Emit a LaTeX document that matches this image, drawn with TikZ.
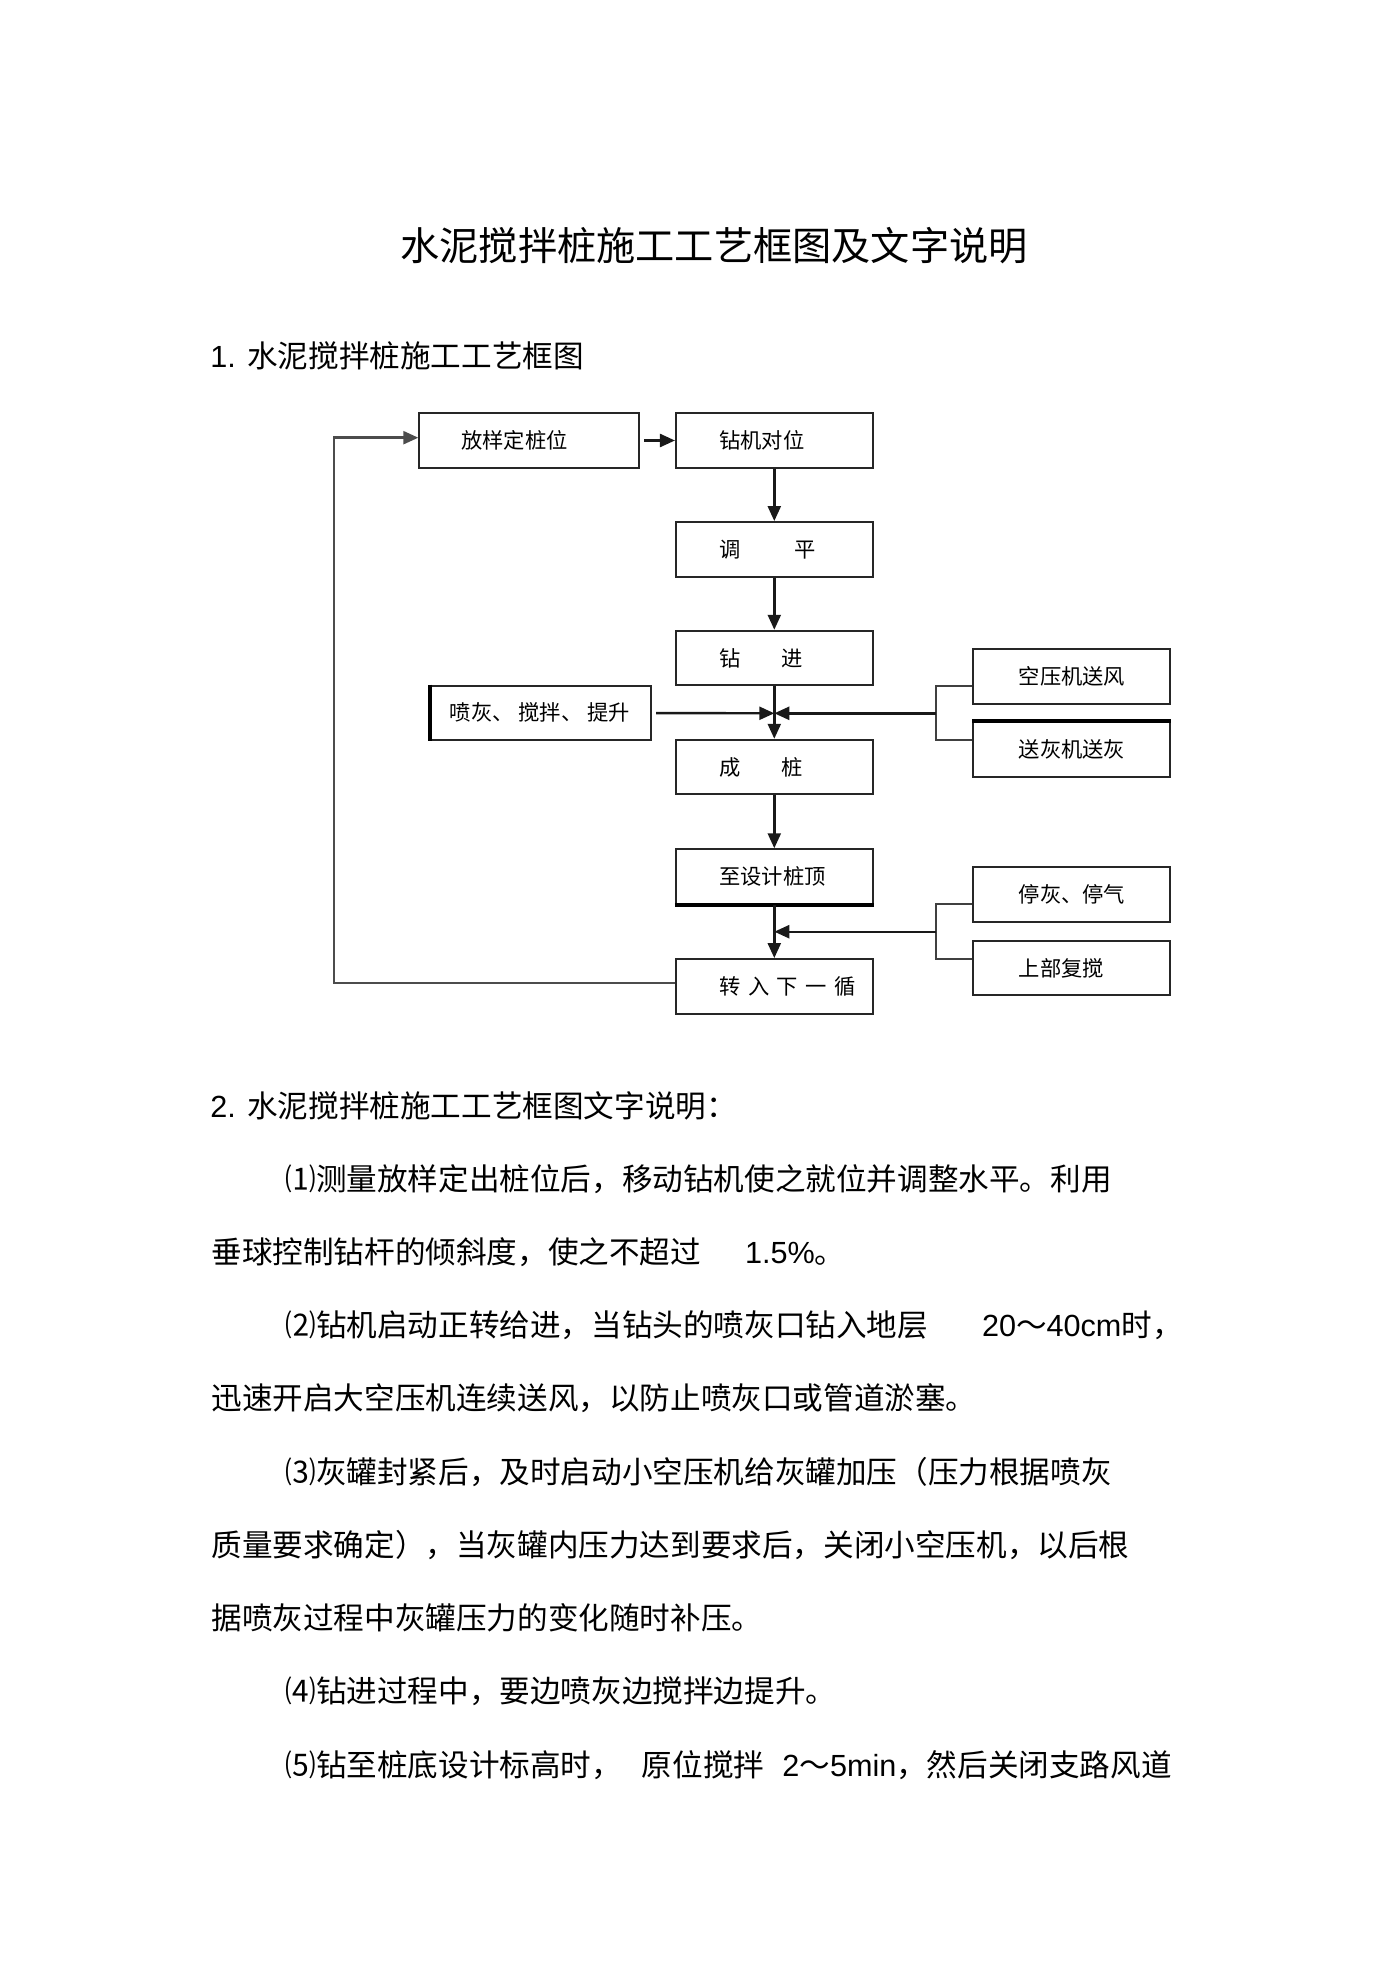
\documentclass[tikz,border=0pt]{standalone}
\usepackage{fontspec}
\setmainfont{Noto Sans CJK SC}
\newfontfamily\lat{Liberation Sans}
\usetikzlibrary{arrows.meta,positioning}

\newcommand{\zigap}{\hspace{3.7pt}}

\tikzset{
  box/.style={draw=black!85, line width=1pt, minimum width=98.35pt, minimum height=27.25pt, inner sep=0pt},
  wbox/.style={box, minimum width=110pt},
  boxtext/.style={inner sep=0pt, font=\fontsize{10.65pt}{12pt}\selectfont},
  link/.style={line width=1.2pt, draw=black!90},
  arr/.style={link, -{Triangle[length=7.5pt,width=6.5pt]}},
  feed/.style={line width=0.9pt, draw=black!75},
  para/.style={anchor=west, inner sep=0pt, font=\fontsize{15.3pt}{18pt}\selectfont},
}

\begin{document}
\begin{tikzpicture}[x=0.5pt, y=-0.5pt]
  % Page
  \useasboundingbox (0,0) rectangle (1394,1973);
  \fill[white] (0,0) rectangle (1394,1973);

  % Headings
  \node[anchor=west, inner sep=0pt, font=\fontsize{19.6pt}{24pt}\selectfont] (title) at (400,246) {水泥搅拌桩施工工艺框图及文字说明};
  \node[anchor=west, inner sep=0pt, font=\fontsize{15.3pt}{18pt}\selectfont] (head1) at (210,356) {{\lat 1. }水泥搅拌桩施工工艺框图};

  % Main column
  \node[box] (zj) at (774.3,440.5) {};
  \node[box] (tp) at (774.3,549.3) {};
  \node[box] (zjin) at (774.3,658) {};
  \node[box] (cz) at (774.3,767) {};
  \node[box] (zd) at (774.3,876.5) {};
  \node[box] (zr) at (774.3,986.3) {};
  % Side boxes
  \node[wbox] (fy) at (529.3,440.5) {};
  \node[wbox] (pen) at (541.2,712.8) {};
  \node[box] (ky) at (1071.7,676.7) {};
  \node[box] (sh) at (1071.7,749.5) {};
  \node[box] (th) at (1071.7,894.5) {};
  \node[box] (sb) at (1071.7,968) {};

  % Box texts
  \node[boxtext, right=21.2pt of fy.west] (fy-t) {放样定桩位};
  \node[boxtext, right=22pt of zj.west] (zj-t) {钻机对位};
  \node[boxtext, right=22pt of tp.west] (tp-t) {调\hspace{26.8pt}平};
  \node[boxtext, right=22pt of zjin.west] (zjin-t) {钻\hspace{20.2pt}进};
  \node[boxtext, right=22pt of cz.west] (cz-t) {成\hspace{20.2pt}桩};
  \node[boxtext, right=22pt of zd.west] (zd-t) {至设计桩顶};
  \node[boxtext, right=22pt of zr.west] (zr-t) {转\zigap 入\zigap 下\zigap 一\zigap 循};
  \node[boxtext, right=9.6pt of pen.west] (pen-t) {喷灰、\hspace{2.5pt}搅拌、\hspace{2.5pt}提升};
  \node[boxtext, right=23pt of ky.west] (ky-t) {空压机送风};
  \node[boxtext, right=23pt of sh.west] (sh-t) {送灰机送灰};
  \node[boxtext, right=23pt of th.west] (th-t) {停灰、停气};
  \node[boxtext, right=23pt of sb.west] (sb-t) {上部复搅};

  % Heavier edges
  \draw[line width=1.9pt] (pen.north west) -- (pen.south west);
  \draw[line width=1.9pt] (zd.south west) -- (zd.south east);
  \draw[line width=1.9pt] (sh.north west) -- (sh.north east);

  % Flow arrows
  \draw[arr, shorten <=2pt] (fy) -- (zj);
  \draw[arr] (zj) -- (tp);
  \draw[arr] (tp) -- (zjin);
  \draw[arr] (zjin) -- (cz);
  \draw[arr] (cz) -- (zd);
  \draw[arr] (zd) -- (zr);

  % Feeds into the column
  \coordinate (jA) at (774.3,713.3);
  \coordinate (bA) at (936,713.3);
  \draw[arr, shorten <=2pt] (pen) -- (jA);
  \draw[feed] ([yshift=-4.5pt]ky.west) -| (bA) |- ([yshift=4.75pt]sh.west);
  \draw[arr] (bA) -- (jA);
  \coordinate (jB) at (774.3,931.7);
  \coordinate (bB) at (936,931.7);
  \draw[feed] ([yshift=-4.75pt]th.west) -| (bB) |- ([yshift=4.5pt]sb.west);
  \draw[arr] (bB) -- (jB);

  % Loop back to the start
  \coordinate (lp) at (334,700);
  \draw[arr, draw=black!70] ([yshift=1.8pt]zr.west) -| (lp) |- ([yshift=1.4pt]fy.west);

  % Notes
  \node[para] (head2) at (210,1106) {{\lat 2. }水泥搅拌桩施工工艺框图文字说明：};
  \node[para] (p1) at (285,1179) {⑴测量放样定出桩位后，移动钻机使之就位并调整水平。利用};
  \node[para] (p1b) at (211,1252) {垂球控制钻杆的倾斜度，使之不超过\hspace{22pt}{\lat 1.5\%}。};
  \node[para] (p2) at (285,1325) {⑵钻机启动正转给进，当钻头的喷灰口钻入地层\hspace{27pt}{\lat 20}～{\lat 40cm}时，};
  \node[para] (p2b) at (211,1398) {迅速开启大空压机连续送风，以防止喷灰口或管道淤塞。};
  \node[para] (p3) at (285,1472) {⑶灰罐封紧后，及时启动小空压机给灰罐加压（压力根据喷灰};
  \node[para] (p3b) at (211,1545) {质量要求确定），当灰罐内压力达到要求后，关闭小空压机，以后根};
  \node[para] (p3c) at (211,1618) {据喷灰过程中灰罐压力的变化随时补压。};
  \node[para] (p4) at (285,1691) {⑷钻进过程中，要边喷灰边搅拌边提升。};
  \node[para] (p5) at (285,1765) {⑸钻至桩底设计标高时，\hspace{10pt}原位搅拌\hspace{9pt}{\lat 2}～{\lat 5min}，然后关闭支路风道};
\end{tikzpicture}
\end{document}
